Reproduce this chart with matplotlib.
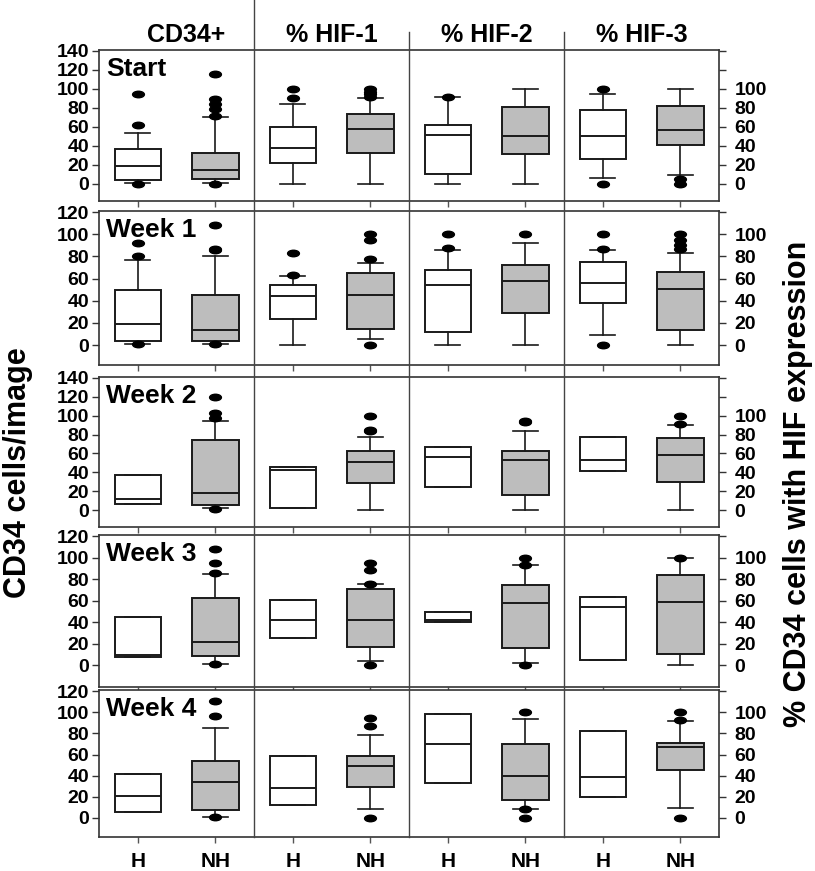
import matplotlib
matplotlib.use('Agg')
import matplotlib.pyplot as plt
from matplotlib.path import Path
from matplotlib.transforms import Affine2D
from matplotlib.lines import Line2D

plt.rcParams['font.family'] = ['Liberation Sans', 'DejaVu Sans']
plt.rcParams['font.weight'] = 'bold'

# ---------------- data ----------------
weeks = ['Start', 'Week 1', 'Week 2', 'Week 3', 'Week 4']
groups = ['CD34+', '% HIF-1', '% HIF-2', '% HIF-3']
box_labels = ['H', 'NH', 'H', 'NH', 'H', 'NH', 'H', 'NH']
y_max = [140, 120, 140, 120, 120]
y_min = [-18, -18, -18, -20, -18]

# order of boxes in each week: CD34 H, CD34 NH, HIF1 H, HIF1 NH, HIF2 H, HIF2 NH, HIF3 H, HIF3 NH
whislo = [
    [1, 1, 0, 0, 0, 0, 6.5, 9],
    [1, 1, 0, 5.7, 0, 0, 8.7, 0],
    [6, 2.5, 2.5, 0, 24.2, 0, 41.4, 0],
    [7.4, 1, 25.2, 3.7, 40.6, 1.8, 4.9, 0],
    [5.8, 1.2, 12, 8.9, 33.2, 8.9, 19.7, 9.2],
]
q1 = [
    [4, 5, 22, 32.5, 10, 31.5, 26, 40.5],
    [3.6, 3.6, 23.3, 14.9, 11.6, 29.2, 37.9, 14],
    [6, 5.3, 2.5, 28.4, 24.2, 15.8, 41.4, 29.8],
    [7.4, 8.3, 25.2, 17.2, 40.6, 16.6, 4.9, 10.5],
    [5.8, 7.4, 12, 29.2, 33.2, 17.2, 19.7, 45.2],
]
med = [
    [19, 15, 38, 58, 52, 50, 50, 57],
    [19, 13.7, 43.9, 45.4, 54, 58, 56, 50.7],
    [11.6, 18.2, 42, 50.9, 56.5, 53.3, 52.6, 58.2],
    [9.8, 21.5, 41.8, 41.8, 42.5, 58.2, 54.2, 58.5],
    [21.2, 33.8, 28, 49, 69.9, 39.7, 39, 66.8],
]
q3 = [
    [37, 32.5, 60, 73.5, 62.5, 81, 78, 82.5],
    [49.5, 45.4, 54.6, 64.8, 67.7, 72.5, 74.6, 66],
    [37.5, 74.7, 45.6, 62.8, 67, 62.5, 77.2, 76.5],
    [45.2, 62.2, 61, 71, 49.2, 74.5, 63.4, 84],
    [41.2, 53.6, 58.5, 59, 98, 69.9, 82.5, 70.8],
]
whishi = [
    [54, 70, 84.5, 90.5, 91, 100, 95, 100],
    [76.4, 80.6, 62.7, 74, 86, 92, 86, 83],
    [37.5, 94.4, 45.6, 77.5, 67, 83.5, 77.2, 89.8],
    [45.2, 84.6, 61, 75.4, 49.2, 93, 63.4, 99.4],
    [41.2, 85, 58.5, 78.8, 98, 93.5, 82.5, 92],
]
fliers = [
    [[0, 62, 95], [0, 71, 79, 84.5, 89, 116], [90.5, 100], [92, 95, 97, 100],
     [91.5], [], [0, 100], [0, 5]],
    [[0.8, 80.6, 92], [1, 86, 87, 108], [63.5, 83], [0, 78, 95, 100],
     [87.3, 100], [100], [0, 87, 100], [86.5, 90, 95, 100]],
    [[], [1, 98, 102.8, 120], [], [84, 85.3, 99.6],
     [], [93, 94.7], [], [91, 99.6]],
    [[], [1, 85.8, 95.4, 107.7], [], [0.6, 75.4, 88.3, 95.4],
     [], [0.6, 93, 100], [], [100]],
    [[], [1, 96, 110.5], [], [0, 86.5, 94.5],
     [], [0, 8.9, 100], [], [0, 93, 100]],
]

# ---------------- layout ----------------
W, H = 815, 871
L, R = 99, 719
rows_px = [(50, 201), (211, 365), (377, 527), (535, 687), (690, 837)]

fig = plt.figure(figsize=(W / 100, H / 100), dpi=100)

ell = Path.unit_circle().transformed(Affine2D().scale(1.0, 0.55))
fill_colors = ['white', '#bdbdbd']
edge = '#1a1a1a'

for i, (top, bot) in enumerate(rows_px):
    ax = fig.add_axes([L / W, 1 - bot / H, (R - L) / W, (bot - top) / H])
    stats = []
    for j in range(8):
        stats.append(dict(whislo=whislo[i][j], q1=q1[i][j], med=med[i][j],
                          q3=q3[i][j], whishi=whishi[i][j], fliers=fliers[i][j]))
    bp = ax.bxp(stats, positions=list(range(1, 9)), widths=0.6, capwidths=0.32,
                patch_artist=True,
                boxprops=dict(edgecolor=edge, linewidth=1.4),
                medianprops=dict(color=edge, linewidth=1.4),
                whiskerprops=dict(color=edge, linewidth=1.2),
                capprops=dict(color=edge, linewidth=1.2),
                flierprops=dict(marker=ell, markerfacecolor='black',
                                markeredgecolor='black', markersize=8.5,
                                linestyle='none'))
    for j, patch in enumerate(bp['boxes']):
        patch.set_facecolor(fill_colors[j % 2])
    ax.set_xlim(0.5, 8.5)
    ax.set_ylim(y_min[i], y_max[i] + 1)
    ticks = list(range(0, y_max[i] + 1, 20))
    ax.set_yticks(ticks)
    ax.set_yticklabels([str(t) for t in ticks], fontsize=14, fontweight='bold')
    ax.tick_params(axis='y', direction='out', length=5, width=1, pad=2, color='#333')
    ax.set_xticks(range(1, 9))
    ax.tick_params(axis='x', direction='out', length=4, width=1, color='#555')
    if i == len(rows_px) - 1:
        ax.set_xticklabels(box_labels, fontsize=15, fontweight='bold')
        ax.tick_params(axis='x', pad=7)
    else:
        ax.set_xticklabels([])
    for s in ax.spines.values():
        s.set_linewidth(1.2)
        s.set_color('#333')
    ax.text(0.012, 1 - 7 / (bot - top), weeks[i], transform=ax.transAxes,
            ha='left', va='top', fontsize=19, fontweight='bold')

    axr = ax.twinx()
    axr.set_ylim(ax.get_ylim())
    axr.set_yticks(ticks)
    axr.set_yticklabels([str(t) if t <= 100 else '' for t in ticks],
                        fontsize=14, fontweight='bold')
    axr.tick_params(axis='y', direction='out', length=5, width=1, pad=6, color='#333')
    for s in axr.spines.values():
        s.set_visible(False)

# column separators (figure coordinates)
sep_x = [2.5, 4.5, 6.5]
sep_top = [0, 32, 32]
for k, xs in enumerate(sep_x):
    xf = (L + (xs - 0.5) / 8 * (R - L)) / W
    fig.add_artist(Line2D([xf, xf], [1 - sep_top[k] / H, 1 - 837 / H],
                          transform=fig.transFigure, color='#444', linewidth=1))

# column headers
header_x = [1.62, 3.5, 5.5, 7.5]
for g, hx in zip(groups, header_x):
    xf = (L + (hx - 0.5) / 8 * (R - L)) / W
    fig.text(xf, 1 - 35 / H, g, ha='center', va='center', fontsize=18, fontweight='bold')

fig.text(18 / W, 1 - 473 / H, 'CD34 cells/image', rotation=90, ha='center',
         va='center', fontsize=22, fontweight='bold')
fig.text(798 / W, 1 - 484 / H, '% CD34 cells with HIF expression', rotation=90,
         ha='center', va='center', fontsize=22, fontweight='bold')

fig.savefig('out.png', dpi=100)
